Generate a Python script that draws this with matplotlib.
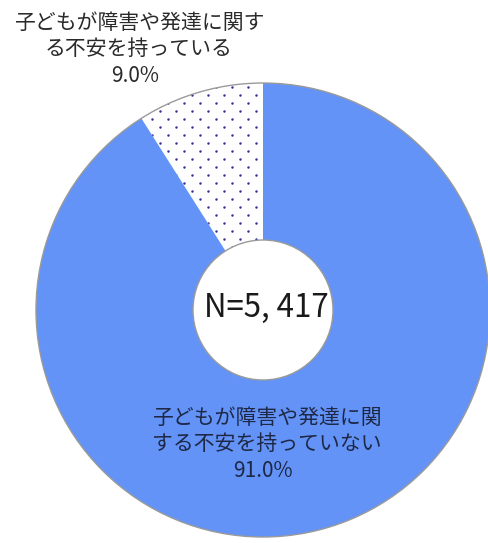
import matplotlib
matplotlib.use("Agg")
import matplotlib.pyplot as plt
import numpy as np
from matplotlib.patches import Circle


# data
categories = ["子どもが障害や発達に関す\nる不安を持っている", "子どもが障害や発達に関\nする不安を持っていない"]
shares = [9.0, 91.0]
total_n = 5417

BLUE = "#6393F7"
DOT_COLOR = "#34349A"
EDGE_COLOR = "#9A9A9A"
TEXT_COLOR = "#2A2A2A"
LABEL_COLOR = "#1E2846"

plt.rcParams["font.family"] = ["Noto Sans CJK JP", "DejaVu Sans"]

W, H = 489, 543
fig = plt.figure(figsize=(W / 100, H / 100), dpi=100)
ax = fig.add_axes([0, 0, 1, 1])

# pixel layout (y measured from the top of the picture)
CX, CY = 263, H - 310
R_OUT = 227
R_HOLE = 70

wedges, _ = ax.pie(
    shares,
    startangle=90,
    counterclock=True,
    center=(CX, CY),
    radius=R_OUT,
    colors=["white", BLUE],
    wedgeprops=dict(linewidth=0),
)

# dotted fill for the small slice: staggered dot lattice clipped to the wedge
gx, gy = np.meshgrid(np.arange(0, W, 16.0), np.arange(0, H, 16.0))
dot_x = np.concatenate([gx.ravel(), gx.ravel() + 8])
dot_y = np.concatenate([gy.ravel(), gy.ravel() + 8])
dots = ax.scatter(dot_x, dot_y, s=3.2, color=DOT_COLOR, linewidths=0, zorder=2)
dots.set_clip_path(wedges[0])

ax.add_patch(Circle((CX, CY), R_OUT, fill=False, edgecolor=EDGE_COLOR, linewidth=1, zorder=3))
ax.add_patch(Circle((CX, CY), R_HOLE, facecolor="white", edgecolor=EDGE_COLOR, linewidth=1, zorder=3))

ax.set_xlim(0, W)
ax.set_ylim(0, H)
ax.set_aspect("equal")
ax.axis("off")

# labels: (x center, y of first line, colour)
label_pos = [(139, 23, TEXT_COLOR), (267, 418, LABEL_COLOR)]
for cat, share, (x, y, col) in zip(categories, shares, label_pos):
    ax.text(x, H - y - 13, cat, ha="center", va="center", fontsize=15,
            color=col, linespacing=1.25, zorder=4)
    ax.text(x - 4, H - y - 53, f"{share:.1f}%", ha="center", va="center",
            fontsize=15, color=col, zorder=4)

ax.text(CX + 3, CY + 2, f"N={total_n:,}".replace(",", ", "), ha="center", va="center",
        fontsize=22.5, color="#1A1A1A", zorder=4)

fig.savefig("out.png", dpi=100)
